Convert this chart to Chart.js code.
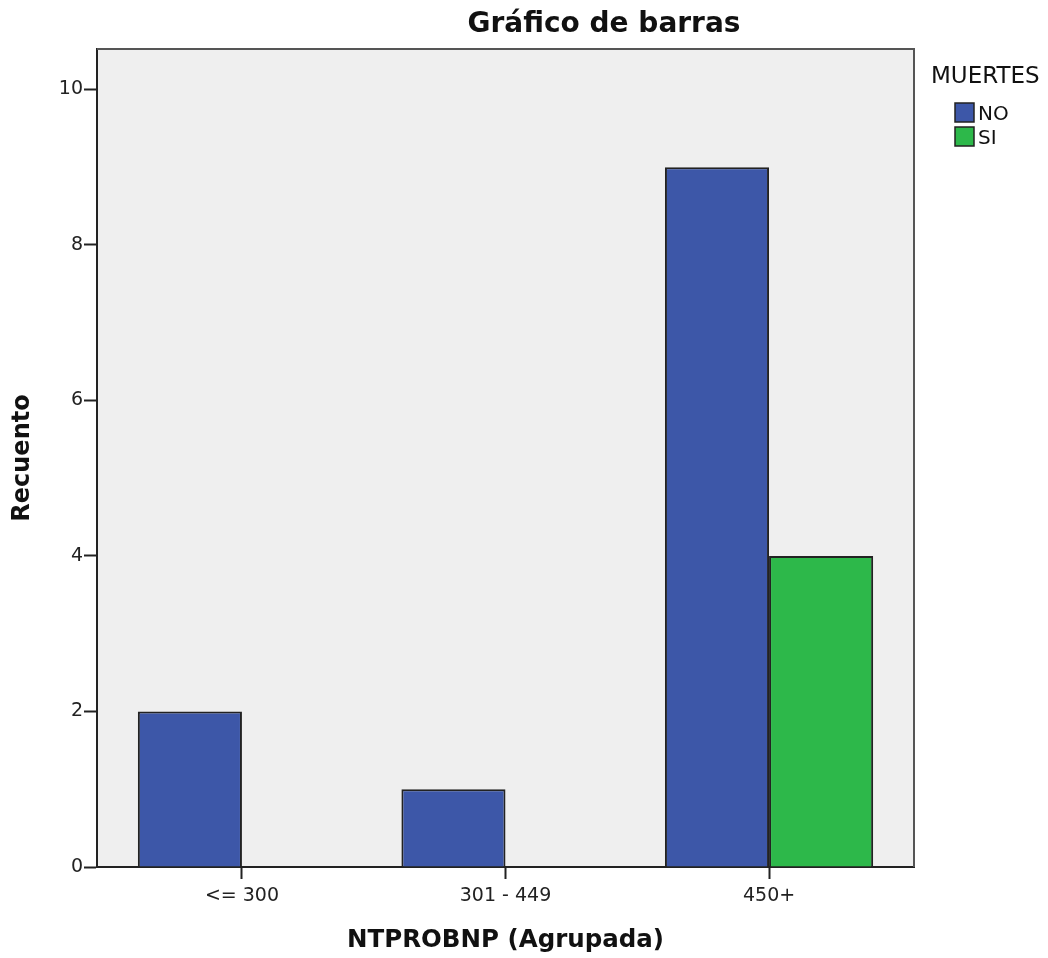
<!DOCTYPE html>
<html>
<head>
<meta charset="utf-8">
<script src="https://cdn.jsdelivr.net/npm/chart.js@4/dist/chart.umd.min.js"></script>
<style>
  html, body { margin: 0; padding: 0; background: #fff; }
  #wrap { width: 1048px; height: 958px; }
</style>
</head>
<body>
<div id="wrap"><canvas id="barChart" width="1048" height="958"></canvas></div>
<script>
// data
var categories = ['<= 300', '301 - 449', '450+']
var noValues = [2, 1, 9]
var siValues = [0, 0, 4]
var yTicks = [0, 2, 4, 6, 8, 10]

var FONT = "'DejaVu Sans', sans-serif"

function toPoints(values) {
    return values.map((v, i) => ({ x: i, y: v }))
}

// grey plot box + top/right frame, title and legend
var plotBox = {
    id: 'plotBox',
    beforeDraw(chart) {
        const a = chart.chartArea
        const ctx = chart.ctx
        ctx.save()
        ctx.fillStyle = '#efefef'
        ctx.fillRect(a.left, a.top, a.right - a.left, a.bottom - a.top)
        ctx.restore()
    },
    afterDraw(chart) {
        const a = chart.chartArea
        const ctx = chart.ctx
        ctx.save()
        ctx.strokeStyle = '#555'
        ctx.lineWidth = 2
        ctx.beginPath()
        ctx.moveTo(a.left, a.top)
        ctx.lineTo(a.right, a.top)
        ctx.lineTo(a.right, a.bottom)
        ctx.stroke()

        // title
        ctx.fillStyle = '#111'
        ctx.font = "bold 28px " + FONT
        ctx.textAlign = 'center'
        ctx.textBaseline = 'alphabetic'
        ctx.fillText('Gráfico de barras', 604, 32)

        // legend
        ctx.textAlign = 'left'
        ctx.font = "23px " + FONT
        ctx.fillText('MUERTES', 931, 83)
        ctx.font = "20px " + FONT
        chart.data.datasets.forEach((ds, i) => {
            const y = 103 + i * 24
            ctx.fillStyle = ds.backgroundColor
            ctx.fillRect(955, y, 19, 19)
            ctx.strokeStyle = '#222'
            ctx.lineWidth = 1.5
            ctx.strokeRect(955, y, 19, 19)
            ctx.fillStyle = '#111'
            ctx.fillText(ds.label, 978, y + 17)
        })
        ctx.restore()
    }
}

var ctx = document.getElementById('barChart').getContext('2d')
var barChart = new Chart(ctx, {
    type: 'bar',
    data: {
        datasets: [
            { label: 'NO', data: toPoints(noValues), backgroundColor: '#3d57a8', borderColor: '#222', borderWidth: 2 },
            { label: 'SI', data: toPoints(siValues), backgroundColor: '#2db84a', borderColor: '#222', borderWidth: 2 }
        ]
    },
    options: {
        responsive: false,
        animation: false,
        barPercentage: 1,
        categoryPercentage: 0.79,
        layout: { padding: { top: 49, right: 134, left: 0, bottom: 0 } },
        plugins: { legend: { display: false }, tooltip: { enabled: false } },
        scales: {
            x: {
                type: 'linear',
                offset: false,
                min: -0.55,
                max: 2.55,
                afterFit: (scale) => { scale.height = 91 },
                afterBuildTicks: (scale) => { scale.ticks = categories.map((c, i) => ({ value: i })) },
                ticks: {
                    includeBounds: false,
                    padding: 6,
                    color: '#222',
                    font: { family: FONT, size: 19 },
                    callback: (v) => categories[v]
                },
                grid: { offset: false, drawOnChartArea: false, tickLength: 12, tickColor: '#222', tickWidth: 2 },
                border: { color: '#222', width: 2 },
                title: { display: true, text: 'NTPROBNP (Agrupada)', color: '#111', font: { family: FONT, size: 24.5, weight: 'bold' }, padding: { top: 0, bottom: 3 } }
            },
            y: {
                min: 0,
                max: 10.52,
                afterFit: (scale) => { scale.width = 97 },
                afterBuildTicks: (scale) => { scale.ticks = yTicks.map((v) => ({ value: v })) },
                ticks: { padding: 1, color: '#222', font: { family: FONT, size: 19 } },
                grid: { drawOnChartArea: false, tickLength: 13, tickColor: '#222', tickWidth: 2 },
                border: { color: '#222', width: 2 },
                title: { display: true, text: 'Recuento', color: '#111', font: { family: FONT, size: 24, weight: 'bold' }, padding: { top: 8, bottom: 0 } }
            }
        }
    },
    plugins: [plotBox]
})
</script>
</body>
</html>
